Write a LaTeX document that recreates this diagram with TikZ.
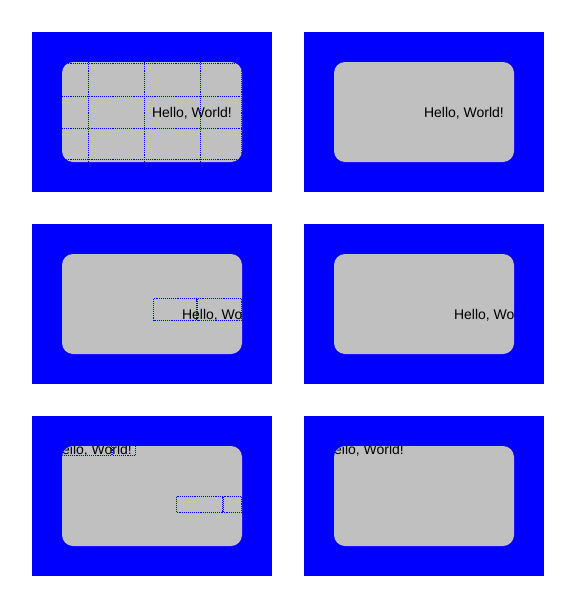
\documentclass[tikz,border=0pt]{standalone}
\usepackage{fontspec}
\setmainfont{Liberation Sans}
\definecolor{panelblue}{RGB}{0,0,255}
\definecolor{panelgrey}{RGB}{192,192,192}
\tikzset{
  panel/.style={fill=panelblue, draw=none},
  card/.style={fill=panelgrey, draw=none, rounded corners=11pt},
  dots/.style={draw=panelblue, line width=1.2pt, dash pattern=on 1.1pt off 1pt},
  hello/.style={anchor=base west, inner sep=0pt, outer sep=0pt, font=\fontsize{14pt}{16pt}\selectfont, text=black}
}
\begin{document}
\begin{tikzpicture}[x=1pt,y=-1pt]
\useasboundingbox (0,0) rectangle (576,608);
\fill[white] (0,0) rectangle (576,608);
% panels
\foreach \px/\py in {0/0,272/0,0/192,272/192,0/384,272/384}{
  \fill[panel] (32+\px,32+\py) rectangle (272+\px,192+\py);
  \fill[card] (62+\px,62+\py) rectangle (242+\px,162+\py);
}
% panel 1
\begin{scope}
  \clip[rounded corners=11pt] (62,62) rectangle (242,162);
  \foreach \gx in {88.5,144.5,200.5,241.5} \draw[dots] (\gx,62) -- (\gx,162);
  \foreach \gy in {63.5,96.5,128.5,159.5} \draw[dots] (62,\gy) -- (242,\gy);
  \node[hello] (t1) at (152,117) {Hello, World!};
\end{scope}
% panel 2
\begin{scope}
  \clip[rounded corners=11pt] (334,62) rectangle (514,162);
  \node[hello] (t2) at (424,117) {Hello, World!};
\end{scope}
% panel 3
\begin{scope}
  \clip[rounded corners=11pt] (62,254) rectangle (242,354);
  \draw[dots] (153.5,298.5) rectangle (196.5,320.5);
  \draw[dots] (197.5,298.5) rectangle (241.5,320.5);
  \node[hello] (t3) at (182,319) {Hello, World!};
\end{scope}
% panel 4
\begin{scope}
  \clip[rounded corners=11pt] (334,254) rectangle (514,354);
  \node[hello] (t4) at (454,319) {Hello, World!};
\end{scope}
% panel 5
\begin{scope}
  \clip[rounded corners=11pt] (62,446) rectangle (242,546);
  \draw[dots] (40.5,430.5) rectangle (111.5,455.5);
  \draw[dots] (112.5,430.5) rectangle (135.5,455.5);
  \draw[dots] (176.5,496.5) rectangle (222.5,512.5);
  \draw[dots] (223.5,496.5) rectangle (241.5,512.5);
  \node[hello] (t5) at (52,454) {Hello, World!};
\end{scope}
% panel 6
\begin{scope}
  \clip[rounded corners=11pt] (334,446) rectangle (514,546);
  \node[hello] (t6) at (324,454) {Hello, World!};
\end{scope}
\end{tikzpicture}
\end{document}
